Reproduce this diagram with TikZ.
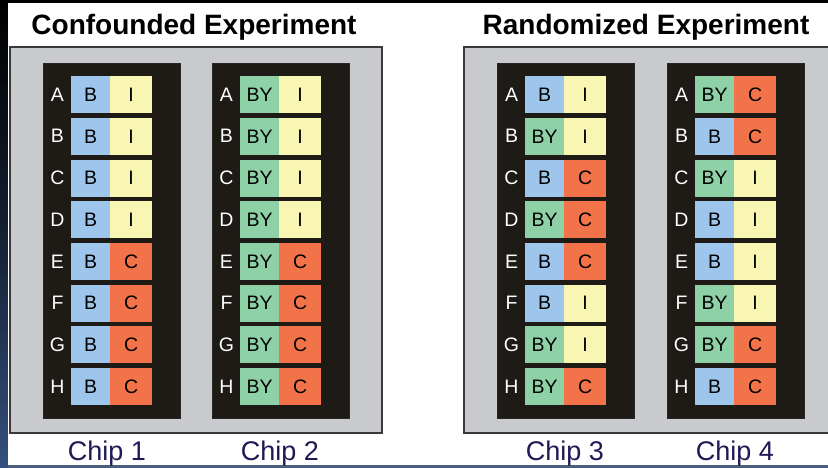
\documentclass[tikz,border=0pt]{standalone}
\usepackage{fontspec}
\setmainfont{Liberation Sans}
\usetikzlibrary{positioning}

\definecolor{cB}{HTML}{9EC6EC}
\definecolor{cBY}{HTML}{8ED1A6}
\definecolor{cI}{HTML}{F8F6B2}
\definecolor{cC}{HTML}{F2734A}
\definecolor{chipfill}{HTML}{1E1B17}
\definecolor{panelfill}{HTML}{C9CACE}
\definecolor{paneledge}{HTML}{3A3A3C}
\definecolor{navy}{HTML}{1F1A55}
\definecolor{stripblue}{HTML}{34507E}

\tikzset{
  x=1pt, y=-1pt,
  panel/.style={fill=panelfill, draw=paneledge, line width=1.6pt},
  chipbox/.style={fill=chipfill, draw=black!85, line width=0.8pt, inner sep=0pt,
    minimum width=137pt, minimum height=355pt, anchor=north west},
  cell/.style={inner sep=0pt, minimum height=37pt, anchor=north west,
    font=\fontsize{19.5pt}{20pt}\selectfont, text=black},
  rowlabel/.style={inner sep=0pt, text=white, font=\fontsize{19.5pt}{20pt}\selectfont},
  title/.style={inner sep=0pt, anchor=base, font=\fontsize{28pt}{30pt}\selectfont\bfseries},
  chiplabel/.style={inner sep=0pt, anchor=base, text=navy, font=\fontsize{27pt}{28pt}\selectfont},
}

% #1 chip name, #2 left edge, #3 rows as letter/first/second
\newcommand\drawchip[3]{%
  \node[chipbox] (#1) at (#2,63) {};
  \foreach \r/\a/\b [count=\i from 0] in {#3} {
    \pgfmathsetmacro\rowtop{76+41.7*\i}
    \node[rowlabel] (#1-\r) at (#2+14.5,\rowtop+18.5) {\r};
    \node[cell, fill=c\a, minimum width=39pt] (#1-\r-a) at (#2+28,\rowtop) {\a};
    \node[cell, fill=c\b, minimum width=42pt] (#1-\r-b) at (#2+67,\rowtop) {\b};
  }%
}

\begin{document}
\begin{tikzpicture}
\useasboundingbox (0,0) rectangle (828,468);
\clip (0,0) rectangle (828,468);

% frame: black top, shaded left strip, thin bottom band
\fill[black] (0,0) rectangle (828,468);
\shade[top color=black, bottom color=stripblue, middle color=black!60!stripblue] (0,0) rectangle (8,468);
\fill[stripblue!70!gray] (8,465) rectangle (828,468);
\fill[white] (8,3) rectangle (828,465);

% titles
\node[title] (t1) at (194,35) {Confounded Experiment};
\node[title] (t2) at (646,35) {Randomized Experiment};

% gray panels
\draw[panel] (10,47) rectangle (382,433);
\draw[panel] (464,47) rectangle (840,433);

\drawchip{chipA}{43}{A/B/I,B/B/I,C/B/I,D/B/I,E/B/C,F/B/C,G/B/C,H/B/C}
\drawchip{chipB}{212}{A/BY/I,B/BY/I,C/BY/I,D/BY/I,E/BY/C,F/BY/C,G/BY/C,H/BY/C}
\drawchip{chipC}{497}{A/B/I,B/BY/I,C/B/C,D/BY/C,E/B/C,F/B/I,G/BY/I,H/BY/C}
\drawchip{chipD}{667}{A/BY/C,B/B/C,C/BY/I,D/B/I,E/B/I,F/BY/I,G/BY/C,H/B/C}

% chip captions
\node[chiplabel] (l1) at (107,460) {Chip 1};
\node[chiplabel] (l2) at (280,460) {Chip 2};
\node[chiplabel] (l3) at (565,460) {Chip 3};
\node[chiplabel] (l4) at (735,460) {Chip 4};
\end{tikzpicture}
\end{document}
